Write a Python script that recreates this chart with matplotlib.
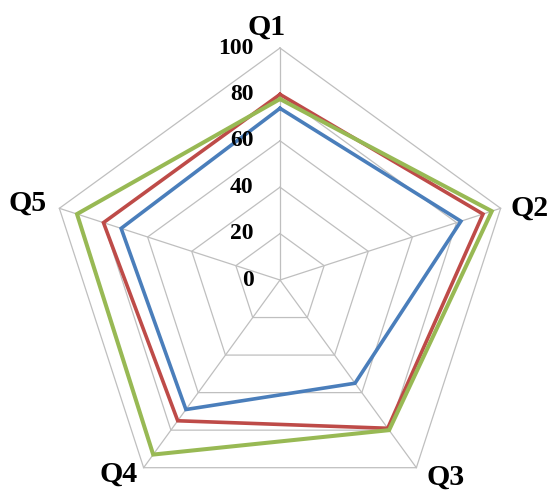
import numpy as np
import matplotlib
matplotlib.use("Agg")
import matplotlib.pyplot as plt

# Radar chart of five question scores for three groups
categories = ["Q1", "Q2", "Q3", "Q4", "Q5"]
series_blue = [74, 82, 55, 69, 72]
series_red = [80, 92, 79, 75, 80]
series_green = [78, 96, 80, 93, 92]
levels = [0, 20, 40, 60, 80, 100]
level_labels = ["0", "20", "40", "60", "80", "100"]

colors = {"blue": "#4A7EBB", "red": "#BE4B48", "green": "#98B954"}
grid_color = "#BFBFBF"

n = len(categories)
angles = np.deg2rad(90 - 360 / n * np.arange(n))


def to_xy(values):
    v = np.asarray(values, dtype=float)
    x = v * np.cos(angles)
    y = v * np.sin(angles)
    return np.append(x, x[0]), np.append(y, y[0])


W, H, dpi = 549, 493, 100
fig = plt.figure(figsize=(W / dpi, H / dpi), dpi=dpi)
ax = fig.add_axes([0, 0, 1, 1])
cx, cy, scale = 280, 280, 2.32  # pixel centre and pixels per unit
ax.set_xlim(-cx / scale, (W - cx) / scale)
ax.set_ylim(-(H - cy) / scale, cy / scale)
ax.axis("off")

# pentagon grid and spokes
for lv in levels[1:]:
    gx, gy = to_xy([lv] * n)
    ax.plot(gx, gy, color=grid_color, lw=0.9, zorder=1)
top = max(levels)
for a in angles:
    ax.plot([0, top * np.cos(a)], [0, top * np.sin(a)], color=grid_color, lw=0.9, zorder=1)

# data series
for vals, key, lw in [(series_blue, "blue", 2.6), (series_red, "red", 2.6), (series_green, "green", 2.9)]:
    sx, sy = to_xy(vals)
    ax.plot(sx, sy, color=colors[key], lw=lw, solid_joinstyle="miter", zorder=3)

# radial tick labels along the Q1 spoke
for lv, lab in zip(levels, level_labels):
    ax.annotate(lab, (0, lv), xytext=(-19, 0), textcoords="offset points",
                ha="right", va="center", fontsize=17, fontweight="bold",
                family="Liberation Serif", color="black", zorder=4)

# category labels
label_offsets = [(-10, 5), (21, 0), (21, -7), (-18, -5), (-23, 4)]
label_align = [("center", "bottom"), ("center", "center"), ("center", "center"),
               ("center", "center"), ("center", "center")]
for cat, a, (dx, dy), (ha, va) in zip(categories, angles, label_offsets, label_align):
    ax.annotate(cat, (top * np.cos(a), top * np.sin(a)), xytext=(dx, dy),
                textcoords="offset points", ha=ha, va=va, fontsize=21.5,
                fontweight="bold", family="Liberation Serif", color="black")

fig.savefig("out.png", dpi=dpi)
